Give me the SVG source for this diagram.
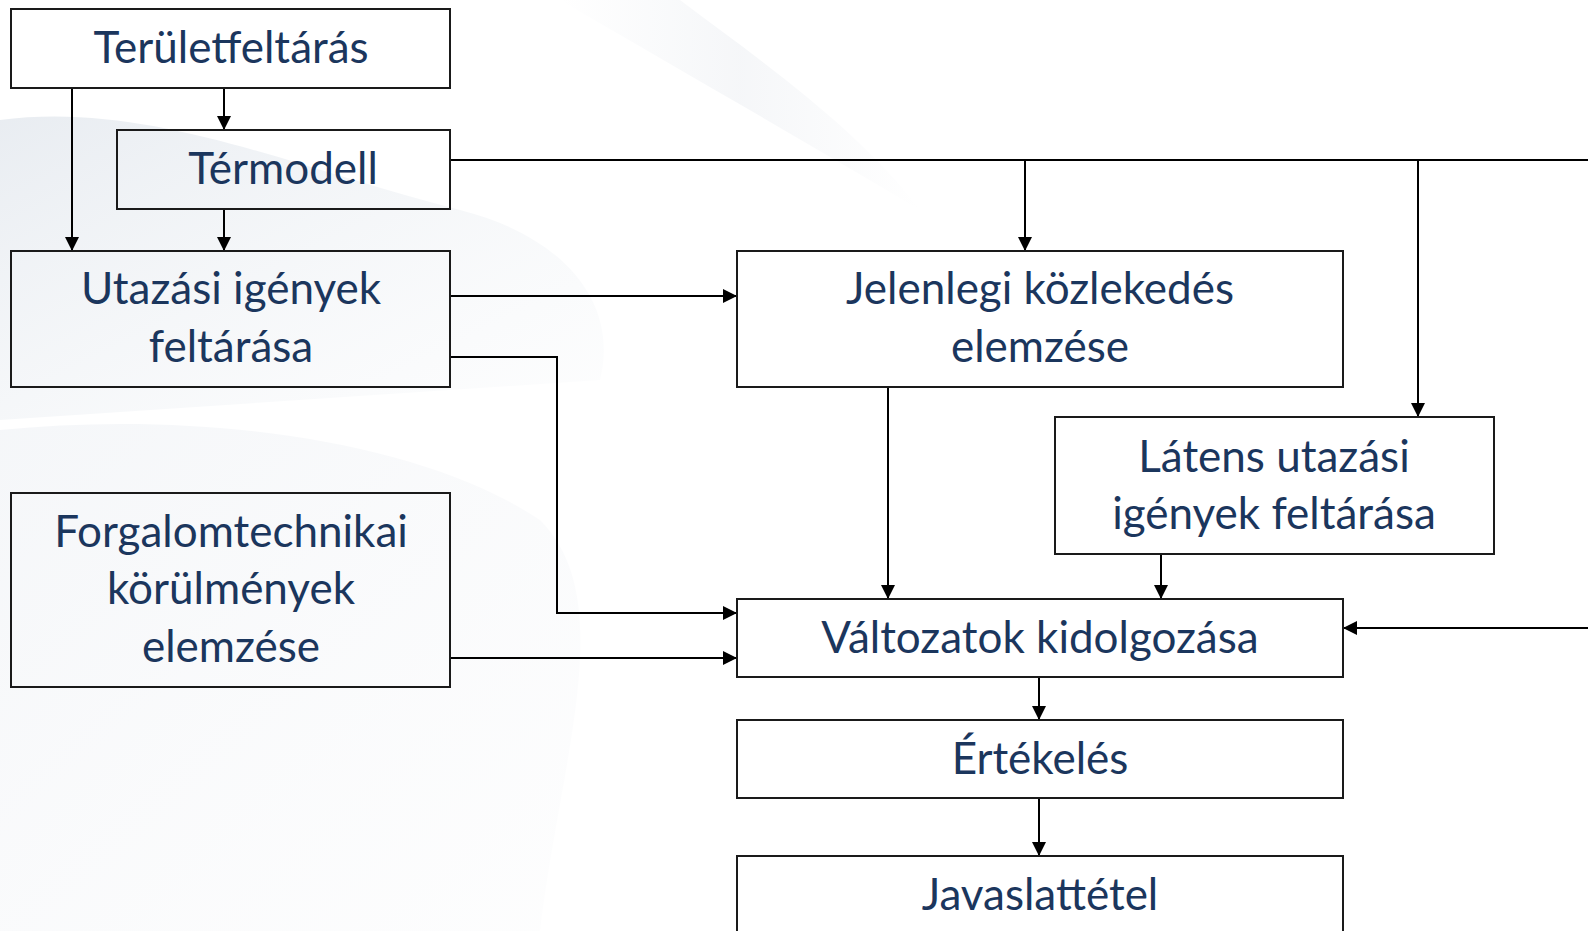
<svg xmlns="http://www.w3.org/2000/svg" width="1588" height="931" viewBox="0 0 1588 931">
<defs>
<style>
.box{fill:none;stroke:#1a1a1a;stroke-width:2}
.t{font-family:Lato,"Open Sans",sans-serif;font-size:44px;fill:#1b365d;text-anchor:middle}
.c{fill:none;stroke:#000;stroke-width:2}
</style>
<marker id="ar" viewBox="0 0 14 14" refX="14" refY="7" markerWidth="14" markerHeight="14" markerUnits="userSpaceOnUse" orient="auto">
<path d="M0,0 L14,7 L0,14 Z" fill="#000"/>
</marker>
<linearGradient id="g1" x1="0" y1="0" x2="1" y2="1">
<stop offset="0" stop-color="#e3e8ee" stop-opacity="0.8"/>
<stop offset="1" stop-color="#f5f7f9" stop-opacity="0.2"/>
</linearGradient>
<linearGradient id="g2" x1="0" y1="0" x2="1" y2="1">
<stop offset="0" stop-color="#eef1f5" stop-opacity="0.6"/>
<stop offset="1" stop-color="#f6f7f9" stop-opacity="0.2"/>
</linearGradient>
<linearGradient id="g3" x1="0" y1="0" x2="1" y2="0">
<stop offset="0" stop-color="#f1f3f6" stop-opacity="0"/>
<stop offset="0.5" stop-color="#f1f3f6" stop-opacity="0.7"/>
<stop offset="1" stop-color="#f1f3f6" stop-opacity="0"/>
</linearGradient>
</defs>
<rect width="1588" height="931" fill="#ffffff"/>
<g id="background">
<path d="M0,120 C150,100 300,170 460,210 C560,235 620,300 600,380 L0,420 Z" fill="url(#g1)"/>
<path d="M0,430 C200,410 420,440 540,520 C620,600 560,760 540,931 L0,931 Z" fill="url(#g2)"/>
<path d="M560,0 L680,0 C760,60 860,130 920,210 C820,150 680,70 560,0 Z" fill="url(#g3)"/>
</g>
<g id="connectors">
<path class="c" d="M72,88 V251" marker-end="url(#ar)"/>
<path class="c" d="M224,88 V130" marker-end="url(#ar)"/>
<path class="c" d="M224,209 V251" marker-end="url(#ar)"/>
<path class="c" d="M450,160 H1600"/>
<path class="c" d="M1025,160 V251" marker-end="url(#ar)"/>
<path class="c" d="M1418,160 V417" marker-end="url(#ar)"/>
<path class="c" d="M1600,628 H1343" marker-end="url(#ar)"/>
<path class="c" d="M450,296 H737" marker-end="url(#ar)"/>
<path class="c" d="M450,357 H557 V613 H737" marker-end="url(#ar)"/>
<path class="c" d="M450,658 H737" marker-end="url(#ar)"/>
<path class="c" d="M888,387 V599" marker-end="url(#ar)"/>
<path class="c" d="M1161,554 V599" marker-end="url(#ar)"/>
<path class="c" d="M1039,677 V720" marker-end="url(#ar)"/>
<path class="c" d="M1039,798 V856" marker-end="url(#ar)"/>
</g>
<g id="n-teruletfeltaras">
<rect class="box" x="11" y="9" width="439" height="79"/>
<text class="t" x="231" y="63">Területfeltárás</text>
</g>
<g id="n-termodell">
<rect class="box" x="117" y="130" width="333" height="79"/>
<text class="t" x="283" y="184">Térmodell</text>
</g>
<g id="n-utazasi">
<rect class="box" x="11" y="251" width="439" height="136"/>
<text class="t" x="231" y="304">Utazási igények</text>
<text class="t" x="231" y="362">feltárása</text>
</g>
<g id="n-jelenlegi">
<rect class="box" x="737" y="251" width="606" height="136"/>
<text class="t" x="1040" y="304">Jelenlegi közlekedés</text>
<text class="t" x="1040" y="362">elemzése</text>
</g>
<g id="n-latens">
<rect class="box" x="1055" y="417" width="439" height="137"/>
<text class="t" x="1274" y="472">Látens utazási</text>
<text class="t" x="1274" y="529">igények feltárása</text>
</g>
<g id="n-forgalom">
<rect class="box" x="11" y="493" width="439" height="194"/>
<text class="t" x="231" y="547">Forgalomtechnikai</text>
<text class="t" x="231" y="604">körülmények</text>
<text class="t" x="231" y="662">elemzése</text>
</g>
<g id="n-valtozatok">
<rect class="box" x="737" y="599" width="606" height="78"/>
<text class="t" x="1040" y="653">Változatok kidolgozása</text>
</g>
<g id="n-ertekeles">
<rect class="box" x="737" y="720" width="606" height="78"/>
<text class="t" x="1040" y="774">Értékelés</text>
</g>
<g id="n-javaslattetel">
<rect class="box" x="737" y="856" width="606" height="90"/>
<text class="t" x="1040" y="910">Javaslattétel</text>
</g>
</svg>
